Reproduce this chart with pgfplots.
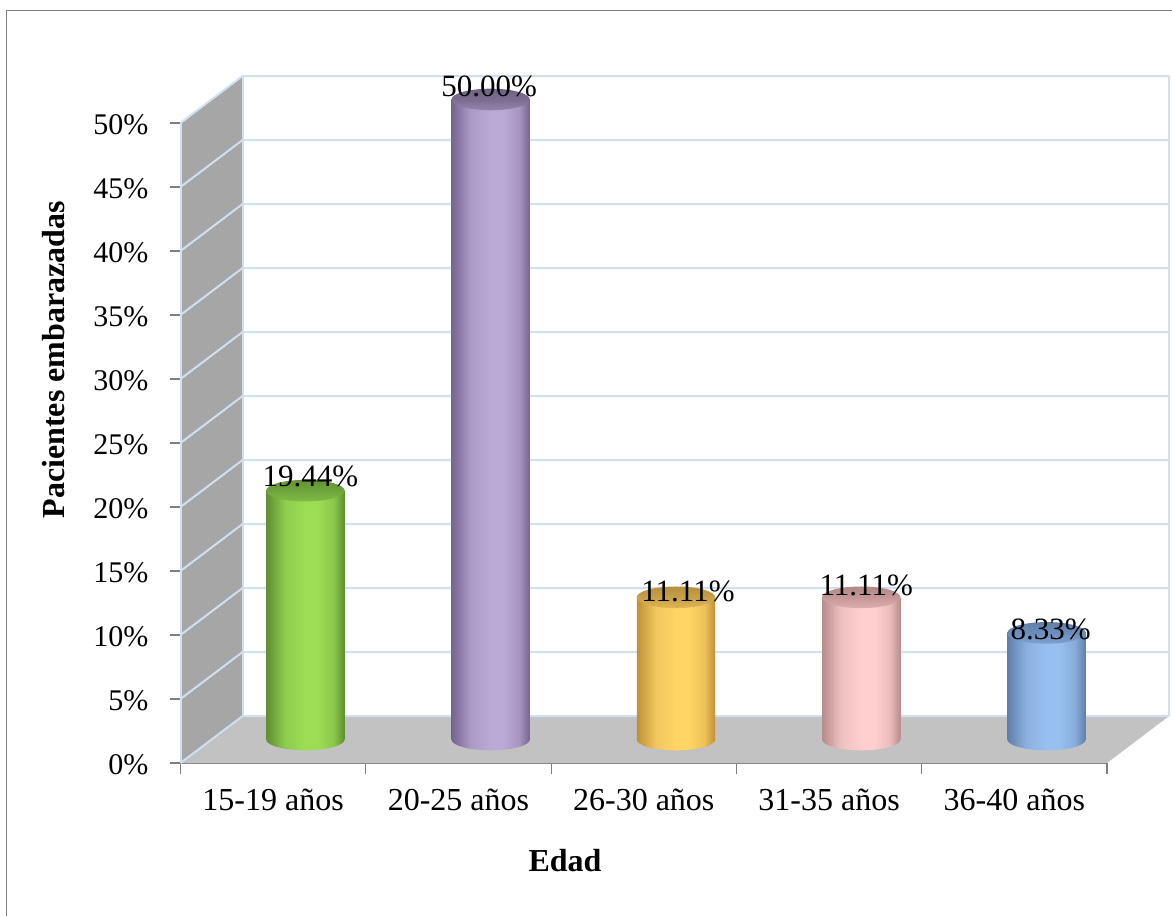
\documentclass[border=0pt]{standalone}
\usepackage{fontspec}
\setmainfont{Liberation Serif}
\usepackage{pgfplots}
\pgfplotsset{compat=1.18}

\definecolor{gridc}{HTML}{D0DFF2}
\definecolor{tickc}{HTML}{7F7F7F}
\definecolor{wallc}{HTML}{A6A6A6}
\definecolor{floorc}{HTML}{C2C2C2}

\tikzset{plotshift/.style={shift={(16.1pt,11.75pt)}}}

% cylinder side: dark edges, light middle (25bp-75bp is the path's own box)
% plus two plot marks, the base ellipse and the top cap
\newcommand{\cylshade}[4]{%
  \definecolor{#1mid}{HTML}{#2}\definecolor{#1edge}{HTML}{#3}\definecolor{#1top}{HTML}{#4}%
  \pgfdeclarehorizontalshading{#1side}{100bp}{
    color(0bp)=(#1edge); color(25bp)=(#1edge);
    color(37bp)=(#1mid!78!#1edge); color(50bp)=(#1mid); color(58bp)=(#1mid);
    color(68bp)=(#1mid!72!#1edge); color(75bp)=(#1edge); color(100bp)=(#1edge)}%
  \pgfdeclareverticalshading{#1cap}{100bp}{
    color(0bp)=(#1top!60!#1mid); color(25bp)=(#1top!60!#1mid);
    color(50bp)=(#1top); color(75bp)=(#1top!90!black); color(100bp)=(#1top!90!black)}%
  \pgfdeclareplotmark{#1base}{%
    \pgfpathellipse{\pgfpointorigin}{\pgfqpoint{19.6pt}{0pt}}{\pgfqpoint{0pt}{5.4pt}}%
    \pgfshadepath{#1side}{0}\pgfusepath{discard}}%
  \pgfdeclareplotmark{#1capm}{%
    \pgfpathellipse{\pgfpointorigin}{\pgfqpoint{19.6pt}{0pt}}{\pgfqpoint{0pt}{5.4pt}}%
    \pgfshadepath{#1cap}{0}\pgfusepath{discard}}%
}
\cylshade{cg}{9CDD55}{5E8F30}{6FA53C}
\cylshade{cp}{BBA9D6}{75648C}{7D6C92}
\cylshade{co}{FFD566}{C08F38}{C9A047}
\cylshade{cr}{FFCFCF}{B88C8C}{C59797}
\cylshade{cb}{97BFF0}{5F7FA8}{6C8EBB}

\newcommand{\lab}{\fontsize{15.5}{18}\selectfont}
\newcommand{\cyl}[5]{% x, value, colour, label xshift, label yshift
  \addplot[only marks, mark=#3base, plotshift] coordinates {(#1,0)};
  \addplot[ybar, bar shift=0pt, bar width=39.2pt, draw=none, shading=#3side, plotshift] coordinates {(#1,#2)};
  \addplot[only marks, mark=#3capm, plotshift,
    point meta=y,
    nodes near coords={\pgfmathprintnumber[fixed,fixed zerofill,precision=2]{\pgfplotspointmeta}\%},
    every node near coord/.append style={anchor=center, text=black, xshift=#4, yshift=#5, font=\lab, inner sep=0pt}]
    coordinates {(#1,#2)};
}

\begin{document}
\begin{tikzpicture}
\useasboundingbox (0,0) rectangle (586pt,458pt);
\draw[tickc, line width=0.9pt] (3.25pt,0pt) -- (3.25pt,452.75pt) -- (586pt,452.75pt);
\begin{axis}[
    at={(90.25pt,76.5pt)}, anchor=south west,
    scale only axis, width=463.25pt, height=320pt,
    xmin=-0.5, xmax=4.5, ymin=0, ymax=50,
    clip=false,
    axis y line*=left, axis x line*=bottom,
    axis line style={tickc, -, line width=0.6pt},
    xtick={-0.5,0.5,...,4.5},
    x tick label as interval,
    xticklabels={15-19 años,20-25 años,26-30 años,31-35 años,36-40 años},
    ytick={0,5,...,50},
    yticklabels={0\%,5\%,10\%,15\%,20\%,25\%,30\%,35\%,40\%,45\%,50\%},
    tick style={tickc, line width=0.6pt},
    major tick length=5.5pt,
    tick align=outside,
    y tick label style={xshift=-7pt, yshift=-1pt, font=\fontsize{15}{18}\selectfont},
    x tick label style={yshift=-4pt, font=\fontsize{16}{18}\selectfont},
    /pgf/number format/assume math mode=true,
    xlabel={\textbf{Edad}},
    ylabel={\textbf{Pacientes embarazadas}},
    x label style={font=\fontsize{16}{18}\selectfont, at={(axis description cs:0.415,-0.153)}, anchor=center},
    y label style={font=\fontsize{16}{18}\selectfont, at={(axis description cs:-0.137,0.63)}, anchor=center},
]
% walls and floor
\fill[wallc] (axis cs:-0.5,0) -- (axis cs:-0.165,3.67) -- (axis cs:-0.165,53.67) -- (axis cs:-0.5,50) -- cycle;
\fill[floorc] (axis cs:-0.5,0) -- (axis cs:-0.165,3.67) -- (axis cs:4.835,3.67) -- (axis cs:4.5,0) -- cycle;
% grid on the two walls
\pgfplotsinvokeforeach{0,5,...,50}{
  \draw[gridc, line width=1pt] (axis cs:-0.5,#1) -- (axis cs:-0.165,{#1+3.67}) -- (axis cs:4.835,{#1+3.67});
}
\draw[gridc, line width=1pt] (axis cs:-0.165,3.67) -- (axis cs:-0.165,53.67);
\draw[gridc, line width=1pt] (axis cs:4.835,3.67) -- (axis cs:4.835,53.67);
\draw[gridc, line width=1pt] (axis cs:-0.5,0) -- (axis cs:-0.5,50);

\cyl{0}{19.44}{cg}{2.5pt}{7pt}
\cyl{1}{50}{cp}{-0.7pt}{6.5pt}
\cyl{2}{11.11}{co}{6pt}{3pt}
\cyl{3}{11.11}{cr}{2.5pt}{6pt}
\cyl{4}{8.33}{cb}{2pt}{1.5pt}
\end{axis}
\end{tikzpicture}
\end{document}
